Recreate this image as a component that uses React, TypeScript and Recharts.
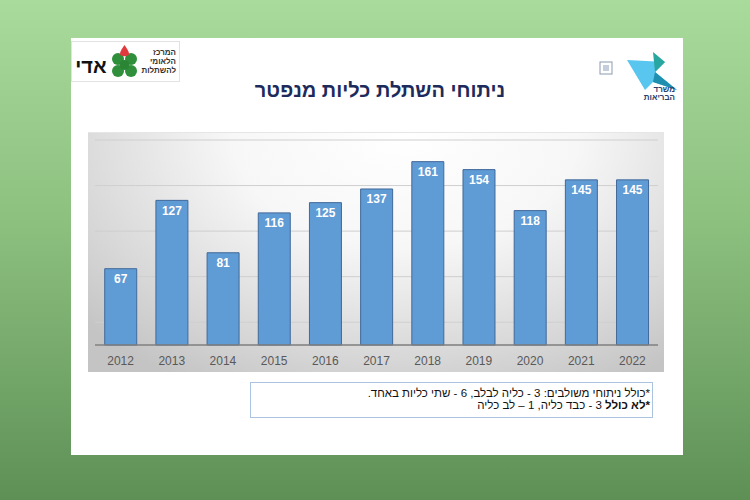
import React from 'react';
import { BarChart, Bar, XAxis, YAxis, CartesianGrid, LabelList } from 'recharts';

const years = ['2012', '2013', '2014', '2015', '2016', '2017', '2018', '2019', '2020', '2021', '2022'];
const transplants = [67, 127, 81, 116, 125, 137, 161, 154, 118, 145, 145];
const yTicks = [0, 20, 40, 60, 80, 100, 120, 140, 160, 180];
const title = 'ניתוחי השתלת כליות מנפטר';
const footnote1 = '*כולל ניתוחי משולבים: 3 - כליה לבלב, 6 - שתי כליות באחד.';
const footnote2Bold = '*לא כולל';
const footnote2Rest = '3 - כבד כליה, 1 – לב כליה';
const leftLogoName = 'אדי';
const leftLogoLines = ['המרכז', 'הלאומי', 'להשתלות'];
const rightLogoLines = ['משרד', 'הבריאות'];

const data = years.map((y, i) => ({ year: y, value: transplants[i] }));

const FONT = '"Liberation Sans", Arial, sans-serif';

function LeftLogo() {
  return (
    <div style={{ position: 'absolute', left: 71, top: 41, width: 109, height: 41, border: '1px solid #e2e2e2', background: '#fff', boxSizing: 'border-box' }}>
      <svg width={109} height={41} style={{ position: 'absolute', left: 0, top: 0 }}>
        <text x={19} y={31} textAnchor="middle" fontFamily={FONT} fontWeight="bold" fontSize={20} fill="#111">{leftLogoName}</text>
        <circle cx={46} cy={17} r={6} fill="#2f8f3a" />
        <circle cx={59} cy={17} r={6} fill="#2f8f3a" />
        <circle cx={46} cy={29} r={6} fill="#2f8f3a" />
        <circle cx={59} cy={29} r={6} fill="#2f8f3a" />
        <circle cx={52.5} cy={23} r={5} fill="#2a8534" />
        <path d="M52.5 3 C56 8 57 10 57 12 C57 15 48 15 48 12 C48 10 49 8 52.5 3 Z" fill="#e0393e" />
        {leftLogoLines.map((t, i) => (
          <text key={t} x={104} y={13 + i * 9} textAnchor="end" fontFamily={FONT} fontWeight="bold" fontSize={8} fill="#333">{t}</text>
        ))}
      </svg>
    </div>
  );
}

function RightLogo() {
  return (
    <svg width={90} height={60} style={{ position: 'absolute', left: 593, top: 46 }}>
      <rect x={7} y={16} width={12} height={12} fill="none" stroke="#8a9bb0" strokeWidth={1} />
      <rect x={10} y={19} width={6} height={6} fill="#c5cfdc" />
      <polygon points="34,14 72,16 62,26 84,44 60,36 52,44" fill="#58c6ee" />
      <polygon points="60,6 72,16 62,26" fill="#27a7a0" />
      <polygon points="62,26 84,44 60,36" fill="#1f8fb0" />
      {rightLogoLines.map((t, i) => (
        <text key={t} x={82} y={46 + i * 8} textAnchor="end" fontFamily={FONT} fontWeight="bold" fontSize={8} fill="#23406e">{t}</text>
      ))}
    </svg>
  );
}

export default function App() {
  return (
    <div style={{ position: 'fixed', left: 0, top: 0, width: 750, height: 500, overflow: 'hidden', background: 'linear-gradient(to bottom, #a9db9c 0%, #8cc07f 45%, #5e9056 100%)' }}>
      <div style={{ position: 'absolute', left: 71, top: 38, width: 612, height: 417, background: '#ffffff' }} />
      <LeftLogo />
      <RightLogo />
      <div dir="rtl" style={{ position: 'absolute', left: 180, top: 78, width: 400, textAlign: 'center', fontFamily: FONT, fontWeight: 'bold', fontSize: 20, lineHeight: '24px', color: '#1d2b5c' }}>
        {title}
      </div>
      <div style={{ position: 'absolute', left: 88, top: 132, width: 576, height: 240, background: 'radial-gradient(ellipse 75% 120% at 55% 0%, #ffffff 0%, #f7f7f7 40%, #d6d6d6 80%, #c4c4c4 100%)', borderTop: '1px solid #e6e6e6', boxSizing: 'border-box' }}>
        <BarChart width={576} height={240} data={data} margin={{ top: 7, right: 6, left: 7, bottom: 0 }} barCategoryGap="19%">
          <CartesianGrid vertical={false} stroke="#cfcfcf" strokeWidth={1} />
          <YAxis hide domain={[0, 180]} ticks={yTicks} />
          <XAxis dataKey="year" height={28} tickLine={false} tickSize={0} tickMargin={11} axisLine={{ stroke: '#7f7f7f', strokeWidth: 1.5 }} tick={{ fill: '#595959', fontSize: 12, fontFamily: FONT }} />
          <Bar dataKey="value" fill="#5f9bd4" stroke="#41699a" strokeWidth={1} isAnimationActive={false}>
            <LabelList dataKey="value" position="insideTop" offset={6} fill="#ffffff" fontSize={12} fontWeight="bold" fontFamily={FONT} />
          </Bar>
        </BarChart>
      </div>
      <div dir="rtl" style={{ position: 'absolute', left: 250, top: 382, width: 403, height: 36, border: '1px solid #a9c3e0', boxSizing: 'border-box', padding: '4px 2px 0 0', fontFamily: FONT, fontSize: 11.5, lineHeight: '12px', color: '#111', textAlign: 'right' }}>
        <div>{footnote1}</div>
        <div><b>{footnote2Bold}</b> {footnote2Rest}</div>
      </div>
    </div>
  );
}
